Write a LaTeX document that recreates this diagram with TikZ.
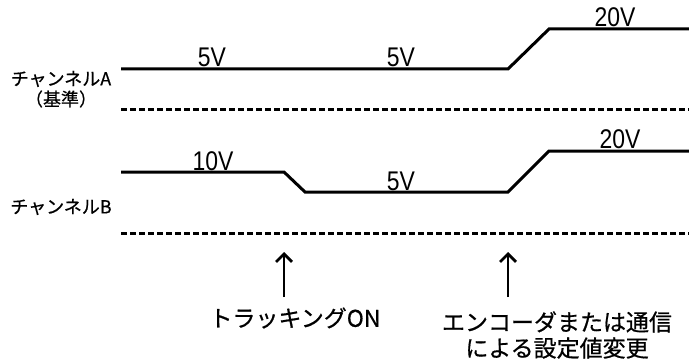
\documentclass[tikz,border=0pt]{standalone}
\usepackage{fontspec}
\setmainfont[FakeBold=0.6]{Noto Sans CJK JP}
\newfontfamily\voltfont[FakeStretch=0.85]{Liberation Sans}
\usetikzlibrary{arrows.meta}
\tikzset{
  timingfig/.style={x=1pt,y=-1pt,line join=miter,
    every node/.style={align=center,inner sep=0pt}},
  wave/.style={draw,line width=3pt},
  refline/.style={draw,line width=3pt,dash pattern=on 6pt off 3pt},
  vlabel/.style={anchor=base,font=\voltfont\fontsize{27}{27}\selectfont,yshift=2pt},
  chlabel/.style={font=\fontsize{18}{21}\selectfont},
  note/.style={font=\fontsize{23}{26}\selectfont},
  marker/.style={-{Straight Barb[length=8pt,width=16pt]},line width=2.7pt},
}

\begin{document}
\begin{tikzpicture}[timingfig]
    \useasboundingbox (0,0) rectangle (689,361);

    % channel A (reference)
    \node[chlabel] (cha) at (61,79) {チャンネルA};
    \node[chlabel] (charef) at (61,99) {（基準）};
    \draw[wave] (121,69) -- (508,69) -- (549,29) -- (689,29);
    \draw[refline] (121,110) -- (689,110);
    \node[vlabel] (vaone) at (212,69) {5V};
    \node[vlabel] (vatwo) at (401,69) {5V};
    \node[vlabel] (vathree) at (615,29) {20V};

    % channel B
    \node[chlabel] (chb) at (61,207) {チャンネルB};
    \draw[wave] (121,172) -- (284,172) -- (305,192) -- (508,192)
      -- (549,151) -- (689,151);
    \draw[refline] (121,233) -- (689,233);
    \node[vlabel] (vbone) at (213,172) {10V};
    \node[vlabel] (vbtwo) at (401,192) {5V};
    \node[vlabel] (vbthree) at (620,151) {20V};

    % events
    \coordinate (trackfoot) at (284,297);
    \coordinate (tracktip) at (284,252);
    \coordinate (setfoot) at (508,297);
    \coordinate (settip) at (508,252);
    \draw[marker] (trackfoot) -- (tracktip);
    \draw[marker] (setfoot) -- (settip);
    \node[note] (tracking) at (295,318) {トラッキングON};
    \node[note] (setting) at (557,335) {エンコーダまたは通信\\による設定値変更};
\end{tikzpicture}
\end{document}
